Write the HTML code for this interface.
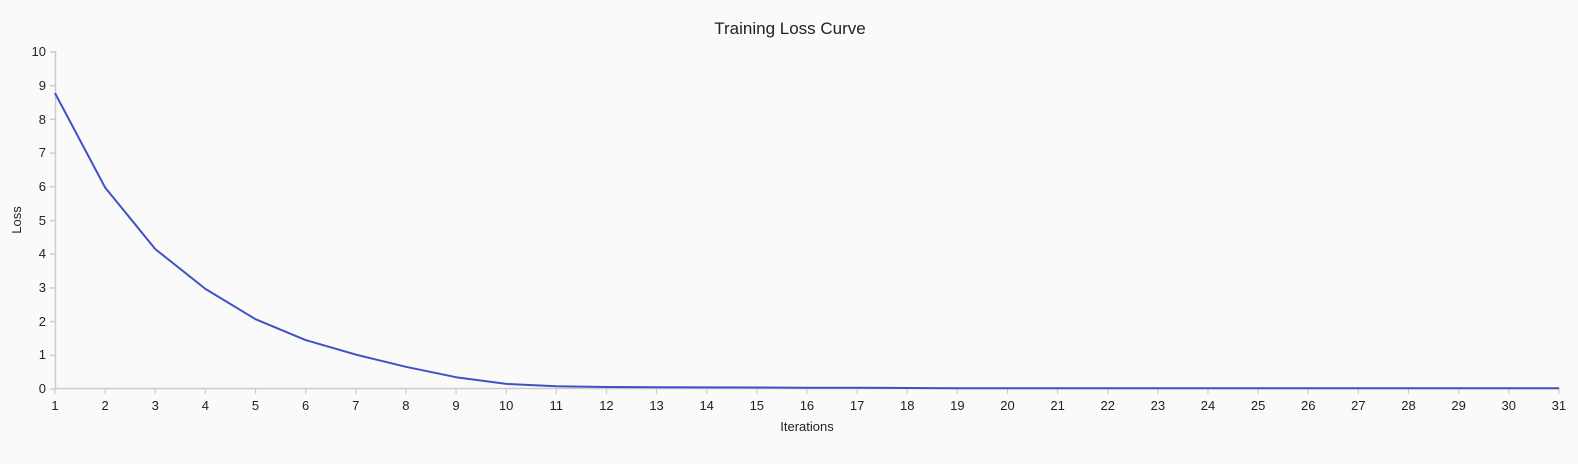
<!DOCTYPE html>
<html><head><meta charset="utf-8"><style>
html,body{margin:0;padding:0;background:#fafafa;}
svg{display:block;font-family:"Liberation Sans",sans-serif;}
</style></head><body>
<svg width="1578" height="464" viewBox="0 0 1578 464">
<rect width="1578" height="464" fill="#fafafa"/>
<text x="790" y="34" text-anchor="middle" font-size="17" fill="#222">Training Loss Curve</text>
<g stroke="#cccccc" stroke-width="1.5" fill="none">
<line x1="55.5" y1="51" x2="55.5" y2="389"/>
<line x1="55" y1="388.5" x2="1560" y2="388.5"/>
<line x1="50" y1="52" x2="55" y2="52"/><line x1="50" y1="85.7" x2="55" y2="85.7"/><line x1="50" y1="119.4" x2="55" y2="119.4"/><line x1="50" y1="153.1" x2="55" y2="153.1"/><line x1="50" y1="186.8" x2="55" y2="186.8"/><line x1="50" y1="220.5" x2="55" y2="220.5"/><line x1="50" y1="254.2" x2="55" y2="254.2"/><line x1="50" y1="287.9" x2="55" y2="287.9"/><line x1="50" y1="321.6" x2="55" y2="321.6"/><line x1="50" y1="355.3" x2="55" y2="355.3"/><line x1="50" y1="389" x2="55" y2="389"/>
</g>
<g font-size="13" fill="#222" text-anchor="end">
<text x="46" y="56">10</text><text x="46" y="90">9</text><text x="46" y="124">8</text><text x="46" y="157">7</text><text x="46" y="191">6</text><text x="46" y="225">5</text><text x="46" y="258">4</text><text x="46" y="292">3</text><text x="46" y="326">2</text><text x="46" y="359">1</text><text x="46" y="393">0</text>
</g>
<text transform="translate(21,220) rotate(-90)" text-anchor="middle" font-size="13" fill="#222">Loss</text>
<text x="807" y="431" text-anchor="middle" font-size="13" fill="#222">Iterations</text>
<g id="xt" stroke="#cccccc" stroke-width="1.2"></g>
<g id="xl" font-size="13" fill="#222" text-anchor="middle"></g>
<polyline id="ser" fill="none" stroke="#3f51c5" stroke-width="2" stroke-linejoin="round" points=""/>
</svg>
<script>
var ns="http://www.w3.org/2000/svg",t=document.getElementById("xt"),l=document.getElementById("xl");
var S=50.13;
for(var i=1;i<=31;i++){var x=55+(i-1)*S;
var ln=document.createElementNS(ns,"line");ln.setAttribute("x1",x);ln.setAttribute("x2",x);ln.setAttribute("y1",389);ln.setAttribute("y2",394);t.appendChild(ln);
var tx=document.createElementNS(ns,"text");tx.setAttribute("x",x);tx.setAttribute("y",410);tx.textContent=i;l.appendChild(tx);}
var v=[8.78,5.98,4.15,2.97,2.07,1.45,1.02,0.66,0.35,0.15,0.08,0.06,0.05,0.048,0.045,0.04,0.035,0.03,0.025,0.02,0.02,0.02,0.02,0.02,0.02,0.02,0.02,0.02,0.02,0.02,0.02];
var p=[];for(var i=0;i<31;i++)p.push((55+i*S).toFixed(1)+","+(389-v[i]*33.7).toFixed(1));
document.getElementById("ser").setAttribute("points",p.join(" "));
</script>
</body></html>
